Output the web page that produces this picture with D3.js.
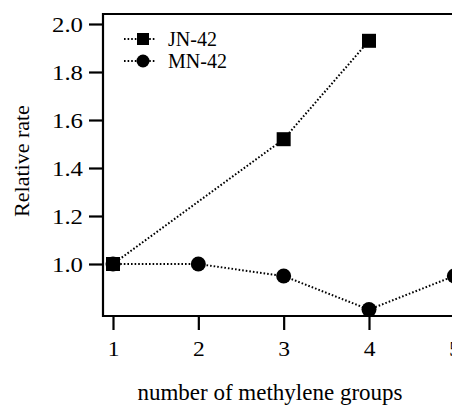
<!DOCTYPE html>
<html><head><meta charset="utf-8">
<script src="https://cdn.jsdelivr.net/npm/d3@7"></script>
<style>body{margin:0;background:#fff}svg{display:block}text{font-family:"Liberation Serif","Times New Roman",serif;fill:#000}</style>
</head><body>
<script>
const xTicks = [1, 2, 3, 4, 5];
const yTicks = [1.0, 1.2, 1.4, 1.6, 1.8, 2.0];
const jnX = [1, 3, 4];
const jnY = [1.0, 1.52, 1.93];
const mnX = [1, 2, 3, 4, 5];
const mnY = [1.0, 1.0, 0.95, 0.81, 0.95];
const seriesNames = ["JN-42", "MN-42"];
const xTitle = "number of methylene groups";
const yTitle = "Relative rate";

(function () {
const W = 452, H = 406;
const svg = d3.select("body").append("svg").attr("width", W).attr("height", H);
const x = d3.scaleLinear().domain([1, 4]).range([113, 369]);
const y = d3.scaleLinear().domain([1, 2]).range([264, 24]);
const leftX = 103, topY = 14, bottomY = 316;

function stretchText(factor) {
  return sel => sel.each(function() {
    const w = this.getComputedTextLength();
    d3.select(this).attr("textLength", w * factor).attr("lengthAdjust", "spacingAndGlyphs");
  });
}

svg.append("line").attr("x1", leftX).attr("x2", W + 5).attr("y1", topY).attr("y2", topY).attr("stroke", "#000").attr("stroke-width", 2.2);
svg.append("line").attr("x1", leftX).attr("x2", leftX).attr("y1", topY - 1).attr("y2", bottomY + 1).attr("stroke", "#000").attr("stroke-width", 2.2);
svg.append("line").attr("x1", leftX - 1).attr("x2", W + 5).attr("y1", bottomY).attr("y2", bottomY).attr("stroke", "#000").attr("stroke-width", 2.2);

const yAxis = svg.append("g").attr("transform", `translate(${leftX - 1},0)`)
  .call(d3.axisLeft(y).tickValues(yTicks).tickFormat(d3.format(".1f")).tickSize(13).tickPadding(6));
yAxis.select(".domain").remove();
yAxis.selectAll(".tick line").attr("stroke", "#000").attr("stroke-width", 2.2);
yAxis.selectAll(".tick text").attr("font-size", 21).attr("font-family", "Liberation Serif").attr("dy", "0.34em").call(stretchText(1.18));

const xAxis = svg.append("g").attr("transform", `translate(0,${bottomY + 1})`)
  .call(d3.axisBottom(x).tickValues(xTicks).tickFormat(d3.format("d")).tickSize(13).tickPadding(11));
xAxis.select(".domain").remove();
xAxis.selectAll(".tick line").attr("stroke", "#000").attr("stroke-width", 2.2);
xAxis.selectAll(".tick text").attr("font-size", 21).attr("font-family", "Liberation Serif").call(stretchText(1.12));

svg.append("text").attr("x", 270).attr("y", 400).attr("text-anchor", "middle").attr("font-size", 23).text(xTitle);
svg.append("text").attr("transform", "translate(29,161) rotate(-90)").attr("text-anchor", "middle").attr("font-size", 22).text(yTitle);

const line = d3.line().x(d => x(d[0])).y(d => y(d[1]));
const jn = jnX.map((v, i) => [v, jnY[i]]);
const mn = mnX.map((v, i) => [v, mnY[i]]);
const dash = "1.6,2";

svg.append("path").datum(jn).attr("d", line).attr("fill", "none").attr("stroke", "#000").attr("stroke-width", 2).attr("stroke-dasharray", dash);
svg.append("path").datum(mn).attr("d", line).attr("fill", "none").attr("stroke", "#000").attr("stroke-width", 2).attr("stroke-dasharray", dash);

const sq = 14;
svg.selectAll(".sq").data(jn).enter().append("rect")
  .attr("x", d => x(d[0]) - sq / 2).attr("y", d => y(d[1]) - sq / 2)
  .attr("width", sq).attr("height", sq).attr("fill", "#000");
svg.selectAll(".ci").data(mn).enter().append("circle")
  .attr("cx", d => x(d[0])).attr("cy", d => y(d[1])).attr("r", 7.5).attr("fill", "#000");

const legY = [39, 61];
seriesNames.forEach((name, i) => {
  const g = svg.append("g");
  g.append("line").attr("x1", 124).attr("x2", 156).attr("y1", legY[i]).attr("y2", legY[i])
    .attr("stroke", "#000").attr("stroke-width", 2).attr("stroke-dasharray", dash);
  if (i === 0) g.append("rect").attr("x", 143 - 6).attr("y", legY[i] - 6).attr("width", 12).attr("height", 12).attr("fill", "#000");
  else g.append("circle").attr("cx", 143).attr("cy", legY[i]).attr("r", 6.5).attr("fill", "#000");
  g.append("text").attr("x", 168).attr("y", legY[i]).attr("dy", "0.35em").attr("font-size", 20).text(name);
});
})();
</script>
</body></html>
